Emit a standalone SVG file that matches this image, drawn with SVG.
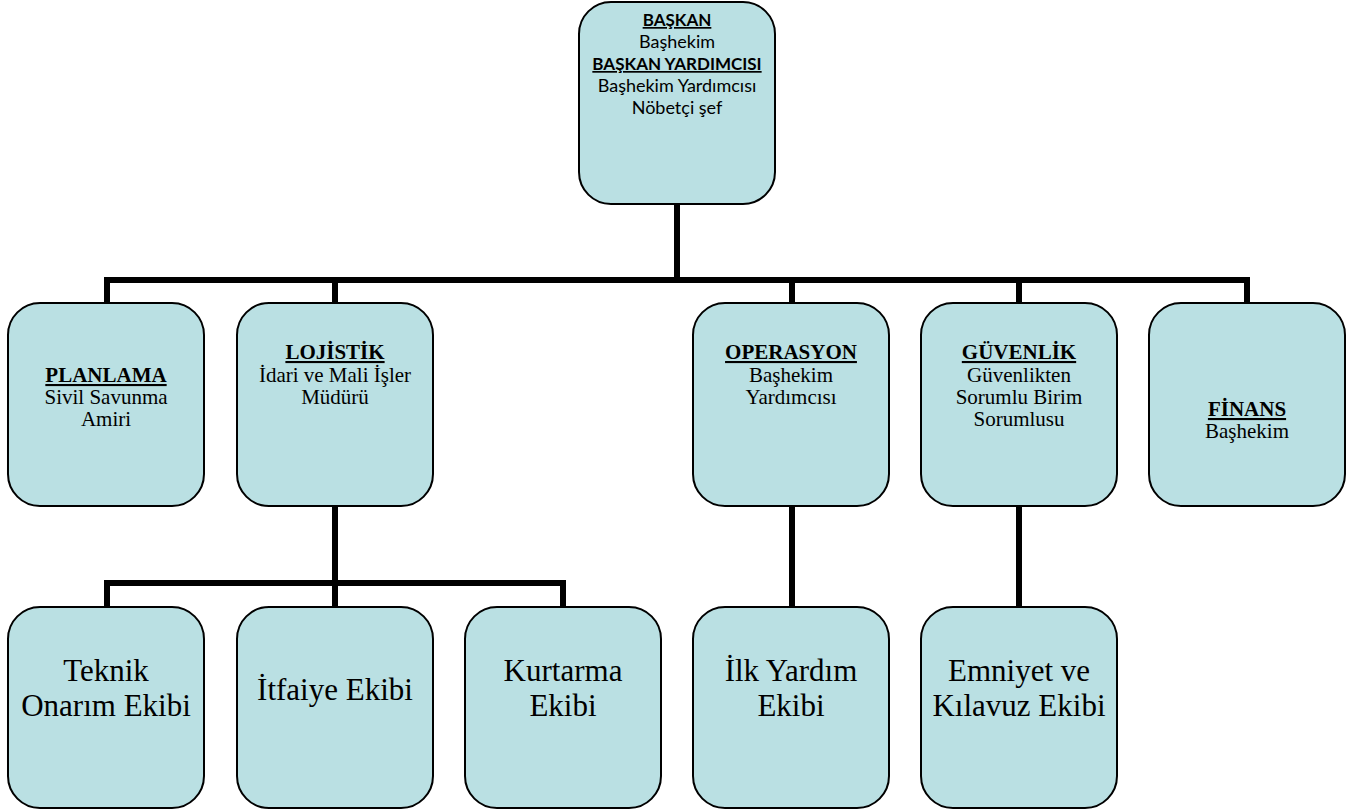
<svg xmlns="http://www.w3.org/2000/svg" width="1360" height="811" viewBox="0 0 1360 811">
<style>
.box{fill:#BAE0E3;stroke:#000;stroke-width:2}
.conn{stroke:#000;stroke-width:6;fill:none;stroke-linejoin:miter;stroke-linecap:butt}
.s{font-family:Lato,"Liberation Sans",Arial,sans-serif;font-size:18px;text-anchor:middle;fill:#000}
.t{font-family:"Liberation Serif","Times New Roman",serif;font-size:21px;text-anchor:middle;fill:#000}
.big{font-family:"Liberation Serif","Times New Roman",serif;font-size:31px;text-anchor:middle;fill:#000}
.hb{font-weight:bold;text-decoration:underline}
.s.hb{font-size:17px}
</style>
<rect width="1360" height="811" fill="#fff"/>
<g id="connectors">
<path class="conn" d="M677,203 V280"/>
<path class="conn" d="M107,304 V280 H1247 V304"/>
<path class="conn" d="M335,280 V304 M792,280 V304 M1019,280 V304"/>
<path class="conn" d="M335,505 V583"/>
<path class="conn" d="M107,608 V583 H563 V608 M335,583 V608"/>
<path class="conn" d="M792,505 V608 M1019,505 V608"/>
</g>
<g id="baskan">
<rect class="box" x="579" y="2" width="196" height="202" rx="32"/>
<text class="s hb" x="677" y="26">BAŞKAN</text>
<text class="s" x="677" y="48">Başhekim</text>
<text class="s hb" x="677" y="70">BAŞKAN YARDIMCISI</text>
<text class="s" x="677" y="92">Başhekim Yardımcısı</text>
<text class="s" x="677" y="114">Nöbetçi şef</text>
</g>
<g id="planlama">
<rect class="box" x="8" y="303" width="196" height="203" rx="32"/>
<text class="t hb" x="106" y="382">PLANLAMA</text>
<text class="t" x="106" y="404">Sivil Savunma</text>
<text class="t" x="106" y="426">Amiri</text>
</g>
<g id="lojistik">
<rect class="box" x="237" y="303" width="196" height="203" rx="32"/>
<text class="t hb" x="335" y="359">LOJİSTİK</text>
<text class="t" x="335" y="382">İdari ve Mali İşler</text>
<text class="t" x="335" y="404">Müdürü</text>
</g>
<g id="operasyon">
<rect class="box" x="693" y="303" width="196" height="203" rx="32"/>
<text class="t hb" x="791" y="359">OPERASYON</text>
<text class="t" x="791" y="382">Başhekim</text>
<text class="t" x="791" y="404">Yardımcısı</text>
</g>
<g id="guvenlik">
<rect class="box" x="921" y="303" width="196" height="203" rx="32"/>
<text class="t hb" x="1019" y="359">GÜVENLİK</text>
<text class="t" x="1019" y="382">Güvenlikten</text>
<text class="t" x="1019" y="404">Sorumlu Birim</text>
<text class="t" x="1019" y="426">Sorumlusu</text>
</g>
<g id="finans">
<rect class="box" x="1149" y="303" width="196" height="203" rx="32"/>
<text class="t hb" x="1247" y="416">FİNANS</text>
<text class="t" x="1247" y="438">Başhekim</text>
</g>
<g id="teknik">
<rect class="box" x="8" y="607" width="196" height="201" rx="32"/>
<text class="big" x="106" y="681">Teknik</text>
<text class="big" x="106" y="716">Onarım Ekibi</text>
</g>
<g id="itfaiye">
<rect class="box" x="237" y="607" width="196" height="201" rx="32"/>
<text class="big" x="335" y="700">İtfaiye Ekibi</text>
</g>
<g id="kurtarma">
<rect class="box" x="465" y="607" width="196" height="201" rx="32"/>
<text class="big" x="563" y="681">Kurtarma</text>
<text class="big" x="563" y="716">Ekibi</text>
</g>
<g id="ilkyardim">
<rect class="box" x="693" y="607" width="196" height="201" rx="32"/>
<text class="big" x="791" y="681">İlk Yardım</text>
<text class="big" x="791" y="716">Ekibi</text>
</g>
<g id="emniyet">
<rect class="box" x="921" y="607" width="196" height="201" rx="32"/>
<text class="big" x="1019" y="681">Emniyet ve</text>
<text class="big" x="1019" y="716">Kılavuz Ekibi</text>
</g>
</svg>
